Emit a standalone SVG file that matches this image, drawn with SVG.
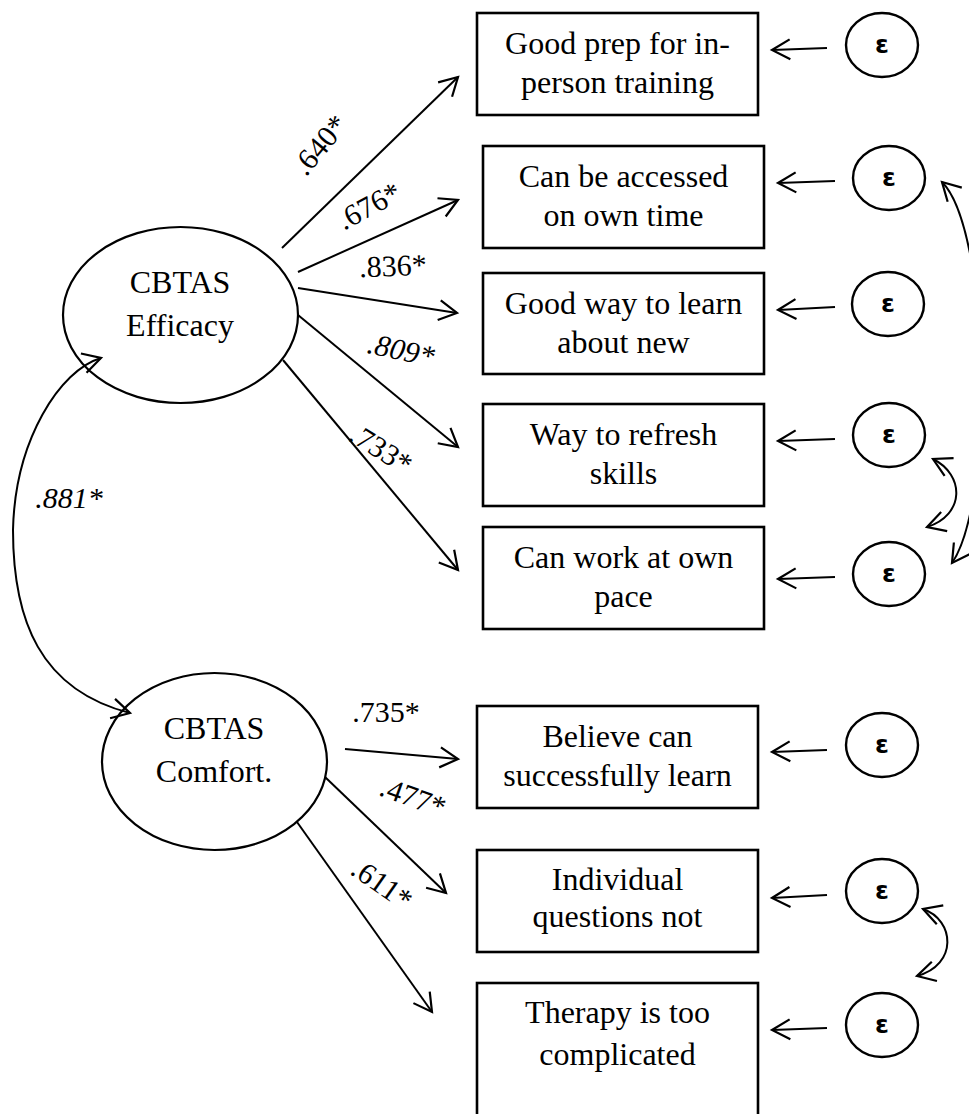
<svg xmlns="http://www.w3.org/2000/svg" width="969" height="1114" viewBox="0 0 969 1114">
<style>
.box{fill:#fff;stroke:#000;stroke-width:2.6}
.lat{fill:#fff;stroke:#000;stroke-width:2.2}
.err{fill:#fff;stroke:#000;stroke-width:2.4}
.t{font-family:"Liberation Serif","Times New Roman",serif;font-size:32px;fill:#000;text-anchor:middle}
.lbl{font-family:"Liberation Serif","Times New Roman",serif;font-size:30px;fill:#000;text-anchor:middle}
.it{font-style:italic}
.eps{font-family:"DejaVu Sans",sans-serif;font-size:25px;font-weight:bold;fill:#000;text-anchor:middle}
.ln{fill:none;stroke:#000;stroke-width:2;marker-end:url(#ah)}
.cov{fill:none;stroke:#000;stroke-width:2;marker-start:url(#ahs);marker-end:url(#ah)}
</style>
<defs>
<marker id="ah" markerUnits="userSpaceOnUse" markerWidth="40" markerHeight="40" viewBox="-20 -20 40 40" refX="0" refY="0" orient="auto">
<path d="M-18,-10 L0,0 L-18,10" fill="none" stroke="#000" stroke-width="2.2"/>
</marker>
<marker id="ahs" markerUnits="userSpaceOnUse" markerWidth="40" markerHeight="40" viewBox="-20 -20 40 40" refX="0" refY="0" orient="auto-start-reverse">
<path d="M-18,-10 L0,0 L-18,10" fill="none" stroke="#000" stroke-width="2.2"/>
</marker>
</defs>
<rect width="969" height="1114" fill="#fff"/>

<g id="efficacy">
<ellipse class="lat" cx="180.5" cy="315" rx="117.5" ry="88"/>
<text class="t" x="180" y="293">CBTAS</text>
<text class="t" x="180" y="336">Efficacy</text>
</g>
<g id="comfort">
<ellipse class="lat" cx="214.5" cy="761.5" rx="112.5" ry="88.5"/>
<text class="t" x="214" y="739">CBTAS</text>
<text class="t" x="214" y="782">Comfort.</text>
</g>

<g id="item1">
<rect class="box" x="477" y="13" width="281" height="102"/>
<text class="t" x="617.5" y="54">Good prep for in-</text>
<text class="t" x="617.5" y="93">person training</text>
</g>
<g id="item2">
<rect class="box" x="483" y="146" width="281" height="102"/>
<text class="t" x="623.5" y="187">Can be accessed</text>
<text class="t" x="623.5" y="226">on own time</text>
</g>
<g id="item3">
<rect class="box" x="483" y="273" width="281" height="101"/>
<text class="t" x="623.5" y="314">Good way to learn</text>
<text class="t" x="623.5" y="353">about new</text>
</g>
<g id="item4">
<rect class="box" x="483" y="404" width="281" height="102"/>
<text class="t" x="623.5" y="445">Way to refresh</text>
<text class="t" x="623.5" y="484">skills</text>
</g>
<g id="item5">
<rect class="box" x="483" y="527" width="281" height="102"/>
<text class="t" x="623.5" y="568">Can work at own</text>
<text class="t" x="623.5" y="607">pace</text>
</g>
<g id="item6">
<rect class="box" x="477" y="706" width="281" height="102"/>
<text class="t" x="617.5" y="747">Believe can</text>
<text class="t" x="617.5" y="786">successfully learn</text>
</g>
<g id="item7">
<rect class="box" x="477" y="850" width="281" height="102"/>
<text class="t" x="617.5" y="890">Individual</text>
<text class="t" x="617.5" y="927">questions not</text>
</g>
<g id="item8">
<rect class="box" x="477" y="983" width="281" height="145"/>
<text class="t" x="617.5" y="1023">Therapy is too</text>
<text class="t" x="617.5" y="1065">complicated</text>
</g>

<g id="e1"><ellipse class="err" cx="882" cy="45" rx="36" ry="32"/><text class="eps" x="882" y="53">ε</text></g>
<g id="e2"><ellipse class="err" cx="889" cy="178" rx="36" ry="32"/><text class="eps" x="889" y="186">ε</text></g>
<g id="e3"><ellipse class="err" cx="888" cy="304" rx="36" ry="32"/><text class="eps" x="888" y="312">ε</text></g>
<g id="e4"><ellipse class="err" cx="889" cy="435" rx="36" ry="32"/><text class="eps" x="889" y="443">ε</text></g>
<g id="e5"><ellipse class="err" cx="889" cy="574" rx="36" ry="32"/><text class="eps" x="889" y="582">ε</text></g>
<g id="e6"><ellipse class="err" cx="882" cy="745" rx="36" ry="32"/><text class="eps" x="882" y="753">ε</text></g>
<g id="e7"><ellipse class="err" cx="882" cy="891" rx="36" ry="32"/><text class="eps" x="882" y="899">ε</text></g>
<g id="e8"><ellipse class="err" cx="882" cy="1025" rx="36" ry="32"/><text class="eps" x="882" y="1033">ε</text></g>

<g id="connectors">
<line class="ln" x1="282" y1="248" x2="458" y2="77"/>
<line class="ln" x1="298" y1="272" x2="458" y2="200"/>
<line class="ln" x1="298" y1="288" x2="457" y2="313"/>
<line class="ln" x1="298" y1="315" x2="458" y2="447"/>
<line class="ln" x1="283" y1="360" x2="458" y2="570"/>
<line class="ln" x1="345" y1="749" x2="458" y2="759"/>
<line class="ln" x1="325" y1="777" x2="446" y2="893"/>
<line class="ln" x1="297" y1="822" x2="432" y2="1012"/>
<line class="ln" x1="827" y1="48" x2="772" y2="50"/>
<line class="ln" x1="835" y1="181" x2="778" y2="183"/>
<line class="ln" x1="835" y1="307" x2="778" y2="310"/>
<line class="ln" x1="835" y1="439" x2="778" y2="441"/>
<line class="ln" x1="835" y1="577" x2="778" y2="579"/>
<line class="ln" x1="827" y1="750" x2="772" y2="752"/>
<line class="ln" x1="827" y1="895" x2="772" y2="898"/>
<line class="ln" x1="827" y1="1028" x2="772" y2="1030"/>
<path class="cov" d="M101,358 C60,370 15,440 13,530 C13,620 40,690 130,713"/>
<path class="cov" d="M942,182 C990,230 995,500 952,563"/>
<path class="cov" d="M933,459 C965,475 965,515 927,527"/>
<path class="cov" d="M923,909 C955,920 958,965 917,976"/>
<text class="lbl" transform="translate(320,145) rotate(-50)" y="10">.640*</text>
<text class="lbl" transform="translate(369,206) rotate(-28)" y="10">.676*</text>
<text class="lbl" transform="translate(393,266) rotate(-2)" y="10">.836*</text>
<text class="lbl it" transform="translate(401,350) rotate(12)" y="10">.809*</text>
<text class="lbl" transform="translate(381,449) rotate(32)" y="10">.733*</text>
<text class="lbl it" x="69" y="508">.881*</text>
<text class="lbl" x="386" y="722">.735*</text>
<text class="lbl" transform="translate(413,797) rotate(20)" y="10">.477*</text>
<text class="lbl" transform="translate(382,884) rotate(35)" y="10">.611*</text>
</g>
</svg>
